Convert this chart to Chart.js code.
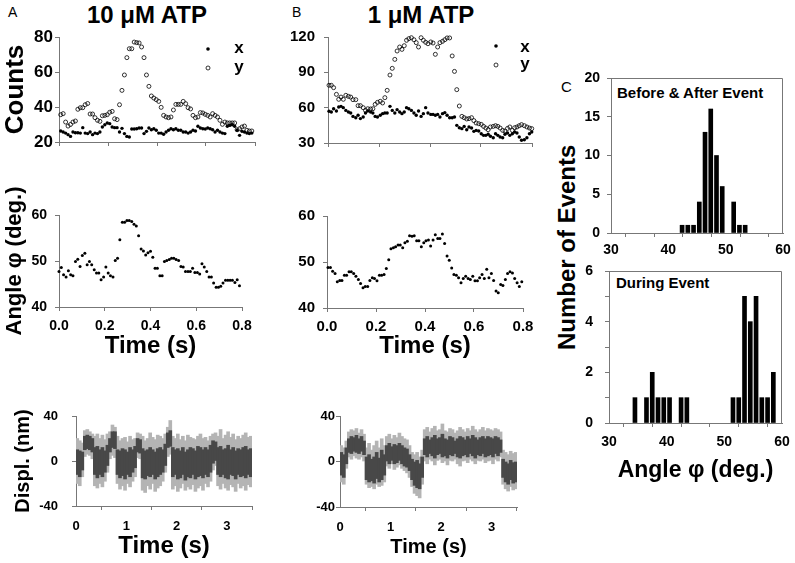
<!DOCTYPE html>
<html>
<head>
<meta charset="utf-8">
<script src="https://cdn.jsdelivr.net/npm/chart.js@4.4.1/dist/chart.umd.min.js"></script>
<style>
body{margin:0;background:#fff;width:795px;height:563px;overflow:hidden;position:relative;font-family:"Liberation Sans",Arial,sans-serif;}
canvas{position:absolute;}
.t{position:absolute;line-height:1;white-space:nowrap;color:#000;}
.b{font-weight:bold;}
</style>
</head>
<body>

<div class="t" style="left:8px;top:5px;font-size:14px">A</div>
<div class="t" style="left:292px;top:5px;font-size:14px">B</div>
<div class="t" style="left:561px;top:79px;font-size:15px">C</div>
<div class="t b" style="left:147px;top:3px;font-size:24px;transform:translateX(-50%)">10 μM ATP</div>
<div class="t b" style="left:421px;top:3px;font-size:24px;transform:translateX(-50%)">1 μM ATP</div>
<div class="t b" style="left:467px;top:238px;width:200px;height:24px;font-size:24px;text-align:center;transform:rotate(-90deg)">Number of Events</div>
<div class="t b" style="left:617px;top:85px;font-size:15px">Before &amp; After Event</div>
<div class="t b" style="left:616px;top:275px;font-size:15px">During Event</div>

<canvas id="aTop" width="270" height="149" style="left:0px;top:13px"></canvas>
<canvas id="aMid" width="262" height="180" style="left:0px;top:183px"></canvas>
<canvas id="aBot" width="264" height="171" style="left:0px;top:392px"></canvas>
<canvas id="bTop" width="262" height="150" style="left:280px;top:13px"></canvas>
<canvas id="bMid" width="263" height="171" style="left:280px;top:192px"></canvas>
<canvas id="bBot" width="239" height="171" style="left:290px;top:392px"></canvas>
<canvas id="cTop" width="214" height="209" style="left:585px;top:54px"></canvas>
<canvas id="cBot" width="214" height="239" style="left:585px;top:247px"></canvas>

<script>
// ---- A: 10 uM ATP, photon counts and angle ----
const timeA = [0.007,0.017,0.027,0.037,0.047,0.057,0.067,0.077,0.087,0.097,0.107,0.117,0.127,0.137,0.147,0.157,0.167,0.177,0.187,0.197,0.207,0.217,0.227,0.237,0.247,0.257,0.267,0.277,0.287,0.297,0.307,0.317,0.327,0.337,0.347,0.357,0.367,0.377,0.387,0.397,0.407,0.417,0.427,0.437,0.447,0.457,0.467,0.477,0.487,0.497,0.507,0.517,0.527,0.537,0.547,0.557,0.567,0.577,0.587,0.597,0.607,0.617,0.627,0.637,0.647,0.657,0.667,0.677,0.687,0.697,0.707,0.717,0.727,0.737,0.747,0.757,0.767,0.777,0.787];
const countXA = [26.3,25.7,25.1,24.2,23.2,25.7,25.3,25.3,25.1,28.2,25.1,24.8,25.7,24.2,25.1,24.8,25.7,28.6,29.9,30.9,30.5,28.6,28.2,28.2,25.7,27.8,24.8,23.2,22.9,27.4,27.4,27.6,28,28,24.8,26.1,28,27,27.6,26.7,25.1,25.1,24.4,25.7,26.7,27.6,27,27.6,26.7,26.7,25.7,25.7,25.1,25.7,26.7,26.3,29,28,27.6,27.4,28,27.6,27,25.7,26.7,25.7,25.1,24.8,29,29.5,29.9,29,26.7,23.8,26.1,25.7,25.1,24.8,25.1];
const countYA = [35.6,36.2,31.4,29.1,30,31.4,32,38.7,39.6,39.6,41.3,42,36,36,33.9,32.4,31.8,35,35.2,35.6,37,37.5,33.3,32.8,41.3,49.5,58.3,68.2,73.3,73.3,77.1,76.8,76.6,74.3,68.2,58.3,51.8,46.3,45.1,44.2,43.2,39.8,35.2,34.3,33.9,34.3,38.3,41.5,41.5,41.5,43.2,41.9,39.6,38.9,35.2,33.9,34.3,36.8,36.6,35.8,35.2,34.3,36.2,35.2,34.3,32.4,30.1,31.4,30.9,30.9,30.9,30.9,27,27.6,28.6,29.1,26.7,26.3,26.3];
const timeAngleA = [0.000,0.010,0.020,0.031,0.041,0.051,0.061,0.072,0.082,0.092,0.102,0.113,0.123,0.133,0.143,0.154,0.164,0.174,0.184,0.195,0.205,0.215,0.225,0.236,0.246,0.256,0.266,0.277,0.287,0.297,0.307,0.318,0.328,0.338,0.348,0.359,0.369,0.379,0.389,0.400,0.410,0.420,0.430,0.441,0.451,0.461,0.471,0.482,0.492,0.502,0.512,0.523,0.533,0.543,0.553,0.564,0.574,0.584,0.594,0.605,0.615,0.625,0.635,0.646,0.656,0.666,0.676,0.687,0.697,0.707,0.717,0.728,0.738,0.748,0.758,0.769,0.779,0.789];
const angleA = [47.7,48.6,47,46.5,47.9,47,46.8,49.9,50.4,48.8,51.2,51.7,49.2,49.9,49.2,48.1,47.4,47.4,45.9,46.5,48.7,47.4,46.8,46.5,50.1,50.6,54.6,58.4,58.4,58.8,58.8,58.6,58,57.6,55.5,52.6,52.2,51.3,51.8,52.1,50.8,48.4,48.4,46.8,46.8,49.9,50.1,50.3,50.6,50.6,50.3,50.1,48.8,48.7,47.7,47.7,47.7,48.4,47.5,47.5,47.2,49.4,48.7,47.7,46.5,46.5,45.2,44.3,44.3,44.5,45.2,45.8,45.8,45.8,45.8,45.3,45.9,44.6];

// ---- B: 1 uM ATP ----
const timeB = [0.004,0.013,0.022,0.033,0.042,0.051,0.060,0.070,0.080,0.089,0.098,0.109,0.118,0.127,0.138,0.147,0.156,0.167,0.176,0.185,0.194,0.205,0.214,0.223,0.232,0.243,0.252,0.262,0.271,0.281,0.290,0.299,0.308,0.317,0.327,0.337,0.346,0.355,0.365,0.374,0.383,0.392,0.403,0.412,0.421,0.430,0.439,0.449,0.458,0.467,0.477,0.487,0.496,0.505,0.515,0.525,0.534,0.544,0.553,0.563,0.572,0.581,0.591,0.601,0.610,0.619,0.628,0.637,0.648,0.657,0.666,0.675,0.685,0.694,0.704,0.713,0.723,0.732,0.741,0.750,0.759,0.770,0.780,0.790,0.799];
const countXB = [56.9,56.3,59.1,57.2,60.6,61.1,60,57.7,56.3,55.5,52.6,51.5,53.5,50.7,52.1,55.5,57.2,56.3,55.5,52.6,52.1,53.5,54.9,55.5,55.5,61.1,57.7,55.5,58.3,56.3,54.9,56.3,60,59.1,57.7,55.5,53.5,57.2,52.6,54.9,60,55.5,54.3,54.3,53.5,54.3,52.1,54.9,55.8,53.5,51.5,51.5,52.1,45,43,42.2,44.1,41.3,43.6,42.7,39.9,40.7,40.2,37.9,36.5,36.5,37.4,35.7,34.5,37.9,36.5,35.1,34.5,37.4,38.5,36.5,37.9,39.3,38.5,35.1,32.3,32.8,34.5,37.9,39.3];
const countYB = [79,79,77,71.3,67.1,69,67.1,70.5,69.6,69,66.8,66.8,61.7,61.7,60,57.7,59.1,58.9,59.1,62.8,64.5,65.4,64,68.5,74.7,87.7,93.4,101,108.1,111.5,109.5,112.6,117.2,118.6,119.4,117.7,115.2,111.5,119.4,117.2,115.5,114.3,115.8,114.9,105.3,111.5,115.2,116.3,117.7,119.2,119.2,103.9,90.8,75.3,61.4,52.6,51.5,50.4,50.7,51.5,49,47,46.4,45.8,44.1,42.7,41.3,43.6,44.1,44.7,44.1,42.7,40.7,40.2,42.4,43.6,40.7,43,43.6,44.7,45.6,44.7,43.6,42.7,42.2];
const timeAngleB = [0.004,0.014,0.023,0.033,0.042,0.052,0.061,0.071,0.080,0.090,0.099,0.109,0.118,0.128,0.137,0.147,0.156,0.166,0.175,0.185,0.194,0.204,0.214,0.223,0.233,0.242,0.252,0.261,0.271,0.280,0.290,0.299,0.309,0.318,0.328,0.337,0.347,0.356,0.366,0.375,0.385,0.395,0.404,0.414,0.423,0.433,0.442,0.452,0.461,0.471,0.480,0.490,0.499,0.509,0.518,0.528,0.537,0.547,0.556,0.566,0.576,0.585,0.595,0.604,0.614,0.623,0.633,0.642,0.652,0.661,0.671,0.680,0.690,0.699,0.709,0.718,0.728,0.737,0.747,0.757,0.766,0.776,0.785,0.795];
const angleB = [48.8,48.8,48,47.5,45.7,46,46,47.1,47.1,47.9,47.9,47.5,46.9,46.2,45.3,44.4,44.7,44.7,46,46.6,46.4,45.9,47.1,47.1,47.3,48.6,50.5,52.9,53.1,53.3,53.7,53.7,53.1,54.2,54.5,55.7,55.6,55.7,54.6,54.6,53.3,54.2,54.6,54.8,53.5,54.8,55.9,55.1,55.1,56.1,54,51.3,50.4,48.7,47.3,47.1,46.6,45.5,46.4,46.9,46.4,46.2,46.9,45.9,45.9,46.6,47.3,46.4,48.4,46.6,47.5,46,43.7,43.3,45.1,44.9,46.2,47.5,47.9,47.6,46.4,45.5,44.7,45.7];

// ---- displacement records, read in 0.05 s bins: sparse outer spread and dense core (nm) ----
const binTime = [0.025,0.075,0.125,0.175,0.225,0.275,0.325,0.375,0.425,0.475,0.525,0.575,0.625,0.675,0.725,0.775,0.825,0.875,0.925,0.975,1.025,1.075,1.125,1.175,1.225,1.275,1.325,1.375,1.425,1.475,1.525,1.575,1.625,1.675,1.725,1.775,1.825,1.875,1.925,1.975,2.025,2.075,2.125,2.175,2.225,2.275,2.325,2.375,2.425,2.475,2.525,2.575,2.625,2.675,2.725,2.775,2.825,2.875,2.925,2.975,3.025,3.075,3.125,3.175,3.225,3.275,3.325,3.375,3.425,3.475];
const outerHiA = [20,18,16,27,28,26,24,22,24,20,23,19,24,26,32,30,22,18,20,21,17,22,19,20,25,24,22,18,20,25,21,19,23,22,20,24,30,36,22,20,24,19,22,18,23,21,20,19,22,24,20,21,18,22,24,25,22,28,20,23,26,21,24,19,22,20,23,25,21,22];
const outerLoA = [-20,-22,-14,4,6,5,2,-22,-24,-20,-23,-18,-10,2,5,3,-20,-25,-22,-26,-20,-23,-18,-14,3,2,-26,-28,-22,-25,-20,-27,-24,-22,-18,-10,4,6,-25,-22,-27,-24,-20,-26,-23,-25,-21,-27,-24,-22,-26,-20,-23,-18,-8,-4,-22,-25,-20,-24,-26,-21,-23,-27,-20,-24,-22,-26,-21,-23];
const coreHiA = [10,9,8,22,23,22,20,12,13,10,12,9,14,20,26,26,10,9,11,10,8,12,10,13,20,19,11,9,10,12,10,8,11,12,10,15,25,27,12,10,11,9,12,8,10,12,11,9,13,12,10,12,10,14,18,17,12,13,10,11,14,10,12,9,11,10,12,13,10,11];
const coreLoA = [-12,-14,-8,10,11,10,8,-12,-15,-12,-14,-10,-4,8,12,11,-12,-15,-13,-16,-12,-14,-10,-6,8,7,-15,-16,-13,-14,-12,-16,-14,-12,-10,-4,12,13,-14,-12,-16,-15,-12,-17,-14,-15,-12,-16,-14,-13,-15,-12,-14,-10,-2,0,-12,-14,-12,-15,-16,-12,-13,-16,-12,-14,-13,-15,-12,-14];
const outerHiB = [14,12,18,26,28,27,29,25,28,24,12,16,10,14,18,12,20,14,22,24,20,23,21,25,22,20,19,14,8,6,8,4,10,28,30,26,29,31,27,28,33,27,26,29,28,25,27,30,28,26,29,27,31,28,26,28,30,27,29,28,27,29,28,26,10,8,6,9,7,8];
const outerLoB = [-18,-20,-6,4,2,5,3,2,4,0,-20,-23,-22,-24,-20,-22,-21,-18,-4,-6,-2,-7,-5,-3,-6,-8,-10,-14,-22,-28,-30,-32,-20,0,-2,2,0,-3,1,2,-1,0,-3,1,0,2,-2,-4,0,1,-1,2,0,-2,1,0,2,-1,0,1,-2,2,0,4,-20,-24,-26,-22,-25,-24];
const coreHiB = [8,6,12,20,22,21,23,20,22,18,4,6,2,4,8,3,10,6,14,16,13,15,14,16,14,12,11,6,2,0,1,-2,4,20,22,19,21,23,20,21,24,20,19,22,21,18,20,22,21,19,22,20,23,21,19,21,22,20,22,21,20,22,21,19,2,0,-2,1,-1,0];
const coreLoB = [-12,-14,-2,8,7,9,8,7,9,6,-16,-18,-17,-19,-15,-18,-16,-12,0,-2,1,-2,-1,1,-2,-4,-5,-8,-16,-21,-23,-24,-14,6,4,7,5,3,6,7,4,5,3,6,5,7,4,3,5,6,4,7,5,3,6,5,7,4,5,6,4,7,5,8,-14,-18,-20,-16,-19,-18];

// ---- C: angle histograms ----
const beforeAngle = [42.4,43.4,44.4,45.4,46.4,47.4,48.4,49.4,51.4,52.4,53.4];
const beforeCount = [1,1,1,4,13,16,10,6,4,1,1];
const duringAngle = [34.5,36.5,37.5,38.5,39.5,40.5,42.5,43.5,51.5,52.5,53.5,54.5,55.5,56.5,57.5,58.5];
const duringCount = [1,1,2,1,1,1,1,1,1,1,5,4,5,1,1,2];

Chart.defaults.font.family = "'Liberation Sans', Arial, sans-serif";
Chart.defaults.font.weight = 'bold';
Chart.defaults.color = '#000';

const AXIS = '#777';

function pts(xs, ys){
  return ys.map((y, i) => ({x: xs[i], y: y}));
}
function bands(xs, lo, hi){
  return xs.map((x, i) => ({x: x, y: [lo[i], hi[i]]}));
}

function xScale(min, max, step, o){
  return {
    type: 'linear', min: min, max: max, offset: false,
    ticks: {stepSize: step, display: o.size > 0, font: {size: o.size || 12}, padding: o.pad || 0,
            includeBounds: false, maxRotation: 0, autoSkip: false, callback: o.cb},
    grid: {drawOnChartArea: false, tickLength: 4, color: AXIS},
    border: {color: AXIS},
    title: {display: !!o.title, text: o.title, font: {size: o.tsize}, padding: {top: 0, bottom: o.tpad || 0}},
    afterFit(s){ s.height = o.h; }
  };
}
function yScale(min, max, step, o){
  return {
    min: min, max: max,
    ticks: {stepSize: step, font: {size: o.size}, padding: o.pad, callback: o.cb},
    grid: {drawOnChartArea: false, tickLength: 4, color: AXIS},
    border: {color: AXIS},
    title: {display: !!o.title, text: o.title, font: {size: o.tsize}, padding: {top: o.tpad || 0, bottom: 0}},
    afterFit(s){ s.width = o.w; }
  };
}

function key(items){
  return {
    id: 'key',
    afterDraw(chart){
      const ctx = chart.ctx;
      ctx.save();
      ctx.font = "bold 17px 'Liberation Sans', Arial";
      ctx.textAlign = 'center';
      ctx.fillStyle = '#000';
      ctx.strokeStyle = '#000';
      ctx.lineWidth = 0.8;
      items.forEach(it => {
        ctx.beginPath();
        ctx.arc(it.mx, it.my, it.filled ? 1.8 : 2, 0, Math.PI * 2);
        if(it.filled) ctx.fill(); else ctx.stroke();
        ctx.fillText(it.label, it.tx, it.ty);
      });
      ctx.restore();
    }
  };
}

const frame = {
  id: 'frame',
  afterDraw(chart){
    const a = chart.chartArea, ctx = chart.ctx;
    ctx.save();
    ctx.strokeStyle = AXIS;
    ctx.lineWidth = 1;
    ctx.beginPath();
    ctx.moveTo(Math.round(a.left) + 0.5, Math.round(a.top) + 0.5);
    ctx.lineTo(Math.round(a.right) - 0.5, Math.round(a.top) + 0.5);
    ctx.lineTo(Math.round(a.right) - 0.5, Math.round(a.bottom));
    ctx.stroke();
    ctx.restore();
  }
};

function filledSet(data, r){
  return {data: data, pointRadius: r, pointBackgroundColor: '#000', pointBorderWidth: 0, clip: false};
}
function openSet(data){
  return {data: data, pointRadius: 2, pointBackgroundColor: 'rgba(0,0,0,0)', pointBorderColor: '#000', pointBorderWidth: 0.8, clip: false};
}

function baseOptions(top, right, scales){
  return {
    responsive: false, animation: false, events: [],
    layout: {padding: {top: top, right: right, left: 0, bottom: 0}},
    plugins: {legend: {display: false}, tooltip: {enabled: false}},
    scales: scales
  };
}

const fix1 = v => Number(v).toFixed(1);

// A top: counts
new Chart(document.getElementById('aTop'), {
  type: 'scatter',
  data: {datasets: [openSet(pts(timeA, countYA)), filledSet(pts(timeA, countXA), 1.7)]},
  options: baseOptions(24, 15, {
    x: xScale(0, 0.8, 0.2, {h: 20}),
    y: yScale(20, 80, 20, {size: 17, pad: 2, w: 59, title: 'Counts', tsize: 26, tpad: 0})
  }),
  plugins: [key([
    {mx: 208, my: 36, filled: true, label: 'x', tx: 239, ty: 40},
    {mx: 208, my: 55, filled: false, label: 'y', tx: 239, ty: 59}
  ])]
});

// A middle: angle
new Chart(document.getElementById('aMid'), {
  type: 'scatter',
  data: {datasets: [filledSet(pts(timeAngleA, angleA), 1.5)]},
  options: baseOptions(32, 20, {
    x: xScale(0, 0.8, 0.2, {size: 14, pad: 7, cb: fix1, h: 56, title: 'Time (s)', tsize: 24, tpad: 2}),
    y: yScale(40, 60, 10, {size: 14, pad: 8, w: 59, title: 'Angle φ (deg.)', tsize: 22, tpad: 2})
  })
});

// A bottom: displacement
new Chart(document.getElementById('aBot'), {
  type: 'bar',
  data: {datasets: [
    {data: bands(binTime, coreLoA, coreHiA), backgroundColor: '#484848', grouped: false, barThickness: 3},
    {data: bands(binTime, outerLoA, outerHiA), backgroundColor: '#b4b4b4', grouped: false, barThickness: 3}
  ]},
  options: baseOptions(24, 12, {
    x: xScale(0, 3.5, 1, {size: 13, pad: 9, h: 57, title: 'Time (s)', tsize: 24, tpad: 2}),
    y: yScale(-40, 40, 40, {size: 13, pad: 14, w: 76, title: 'Displ. (nm)', tsize: 20, tpad: 11})
  })
});

// B top: counts
new Chart(document.getElementById('bTop'), {
  type: 'scatter',
  data: {datasets: [openSet(pts(timeB, countYB)), filledSet(pts(timeB, countXB), 1.7)]},
  options: baseOptions(24, 10, {
    x: xScale(0, 0.8, 0.2, {h: 20}),
    y: yScale(30, 120, 30, {size: 15, pad: 9, w: 48})
  }),
  plugins: [key([
    {mx: 216, my: 33, filled: true, label: 'x', tx: 245, ty: 39},
    {mx: 216, my: 52, filled: false, label: 'y', tx: 245, ty: 56}
  ])]
});

// B middle: angle
new Chart(document.getElementById('bMid'), {
  type: 'scatter',
  data: {datasets: [filledSet(pts(timeAngleB, angleB), 1.5)]},
  options: baseOptions(24, 20, {
    x: xScale(0, 0.8, 0.2, {size: 15, pad: 6, cb: fix1, h: 55, title: 'Time (s)', tsize: 24, tpad: 2}),
    y: yScale(40, 60, 10, {size: 15, pad: 8, w: 47})
  })
});

// B bottom: displacement
new Chart(document.getElementById('bBot'), {
  type: 'bar',
  data: {datasets: [
    {data: bands(binTime, coreLoB, coreHiB), backgroundColor: '#484848', grouped: false, barThickness: 3},
    {data: bands(binTime, outerLoB, outerHiB), backgroundColor: '#b4b4b4', grouped: false, barThickness: 3}
  ]},
  options: baseOptions(24, 12, {
    x: xScale(0, 3.5, 1, {size: 13, pad: 9, h: 56, title: 'Time (s)', tsize: 20, tpad: 4}),
    y: yScale(-40, 40, 40, {size: 13, pad: 1, w: 50})
  })
});

// C top: before & after histogram
const tens = v => (v % 10 === 0 ? v : '');
new Chart(document.getElementById('cTop'), {
  type: 'bar',
  data: {datasets: [{data: pts(beforeAngle, beforeCount), backgroundColor: '#000', barThickness: 4}]},
  options: baseOptions(24, 16, {
    x: xScale(30, 60, 5, {size: 14, pad: 5, cb: tens, h: 30}),
    y: yScale(0, 20, 5, {size: 14, pad: 7, w: 26})
  }),
  plugins: [frame]
});

// C bottom: during-event histogram
new Chart(document.getElementById('cBot'), {
  type: 'bar',
  data: {datasets: [{data: pts(duringAngle, duringCount), backgroundColor: '#000', barThickness: 4}]},
  options: baseOptions(24, 17, {
    x: xScale(30, 60, 5, {size: 14, pad: 7, cb: tens, h: 63, title: 'Angle φ (deg.)', tsize: 23, tpad: 2}),
    y: yScale(0, 6, 1, {size: 14, pad: 12, w: 24, cb: v => (v % 2 === 0 ? v : '')})
  }),
  plugins: [frame]
});
</script>
</body>
</html>
